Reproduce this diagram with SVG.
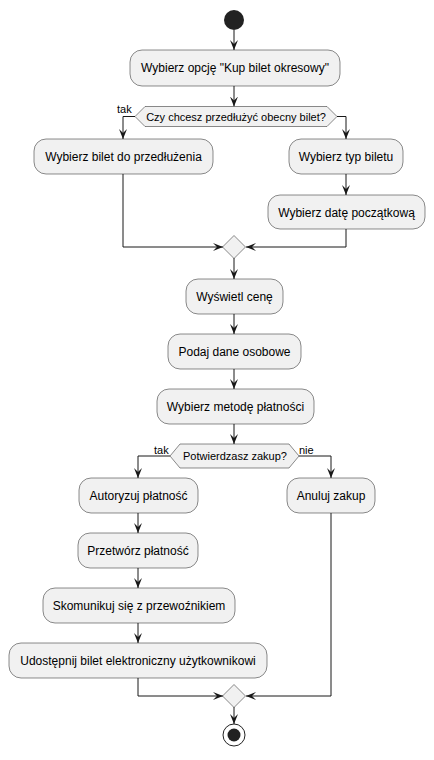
<svg xmlns="http://www.w3.org/2000/svg" width="434" height="760" viewBox="0 0 434 760">
<style>
.box{fill:#F1F1F1;stroke:#181818;stroke-width:0.5}
.dia{fill:#F1F1F1;stroke:#181818;stroke-width:0.5}
.t{font-family:"Liberation Sans",Arial,sans-serif;font-size:12px;fill:#000;text-anchor:middle}
.s{font-family:"Liberation Sans",Arial,sans-serif;font-size:11px;fill:#000}
.c{fill:none;stroke:#181818;stroke-width:1;marker-end:url(#ah)}
</style>
<defs>
<marker id="ah" markerUnits="userSpaceOnUse" markerWidth="12" markerHeight="10" refX="10" refY="4" orient="auto">
<path d="M0,0 L10,4 L0,8 L4,4 Z" fill="#181818"/>
</marker>
</defs>
<rect width="434" height="760" fill="#FFFFFF"/>
<g id="connectors">
<path class="c" d="M234,30 L234,50"/>
<path class="c" d="M234,86 L234,106.5"/>
<path class="c" d="M135,116.5 L123,116.5 L123,139"/>
<path class="c" d="M337,116.5 L346,116.5 L346,139"/>
<path class="c" d="M346,174 L346,195"/>
<path class="c" d="M123,174 L123,247 L223,247"/>
<path class="c" d="M346,229 L346,247 L246,247"/>
<path class="c" d="M234,258 L234,279"/>
<path class="c" d="M234,314 L234,334"/>
<path class="c" d="M234,369 L234,389"/>
<path class="c" d="M234,424 L234,444"/>
<path class="c" d="M170,456 L138,456 L138,478"/>
<path class="c" d="M299,456 L331,456 L331,478"/>
<path class="c" d="M138,513 L138,533"/>
<path class="c" d="M138,568 L138,588"/>
<path class="c" d="M138,623 L138,643"/>
<path class="c" d="M138,678 L138,696 L223,696"/>
<path class="c" d="M331,513 L331,696 L246,696"/>
<path class="c" d="M234,707 L234,724"/>
<text class="s" x="117" y="113">tak</text>
<text class="s" x="154" y="454">tak</text>
<text class="s" x="299" y="454">nie</text>
</g>
<g id="start"><circle cx="234" cy="20" r="10" fill="#222222"/></g>
<g id="n1"><rect class="box" x="130" y="50" width="210" height="36" rx="12"/><text class="t" x="235" y="72">Wybierz opcję "Kup bilet okresowy"</text></g>
<g id="d1"><polygon class="dia" points="135,116.5 145,106.5 327,106.5 337,116.5 327,126.5 145,126.5"/><text class="s" x="236" y="120.5" text-anchor="middle">Czy chcesz przedłużyć obecny bilet?</text></g>
<g id="n2"><rect class="box" x="34" y="139" width="179" height="35" rx="12"/><text class="t" x="123.5" y="161">Wybierz bilet do przedłużenia</text></g>
<g id="n3"><rect class="box" x="289" y="139" width="114" height="35" rx="12"/><text class="t" x="346" y="161">Wybierz typ biletu</text></g>
<g id="n4"><rect class="box" x="268" y="195" width="157" height="34" rx="12"/><text class="t" x="346.5" y="216.5">Wybierz datę początkową</text></g>
<g id="m1"><polygon class="dia" points="234,235.5 245.5,247 234,258.5 222.5,247"/></g>
<g id="n5"><rect class="box" x="186" y="279" width="97" height="35" rx="12"/><text class="t" x="234.5" y="301">Wyświetl cenę</text></g>
<g id="n6"><rect class="box" x="168" y="334" width="133" height="35" rx="12"/><text class="t" x="234.5" y="356">Podaj dane osobowe</text></g>
<g id="n7"><rect class="box" x="157" y="389" width="157" height="35" rx="12"/><text class="t" x="235.5" y="411">Wybierz metodę płatności</text></g>
<g id="d2"><polygon class="dia" points="170,456 180,444 289,444 299,456 289,468 180,468"/><text class="s" x="235" y="460" text-anchor="middle">Potwierdzasz zakup?</text></g>
<g id="n8"><rect class="box" x="79" y="478" width="119" height="35" rx="12"/><text class="t" x="138.5" y="500">Autoryzuj płatność</text></g>
<g id="n9"><rect class="box" x="287" y="478" width="88" height="35" rx="12"/><text class="t" x="331" y="500">Anuluj zakup</text></g>
<g id="n10"><rect class="box" x="78" y="533" width="120" height="35" rx="12"/><text class="t" x="138" y="555">Przetwórz płatność</text></g>
<g id="n11"><rect class="box" x="43" y="588" width="192" height="35" rx="12"/><text class="t" x="139" y="610">Skomunikuj się z przewoźnikiem</text></g>
<g id="n12"><rect class="box" x="9" y="643" width="258" height="35" rx="12"/><text class="t" x="138" y="665">Udostępnij bilet elektroniczny użytkownikowi</text></g>
<g id="m2"><polygon class="dia" points="234,684.5 245.5,696 234,707.5 222.5,696"/></g>
<g id="end"><circle cx="234" cy="735" r="11" fill="none" stroke="#222222" stroke-width="1"/><circle cx="234" cy="735" r="6.5" fill="#222222"/></g>
</svg>
